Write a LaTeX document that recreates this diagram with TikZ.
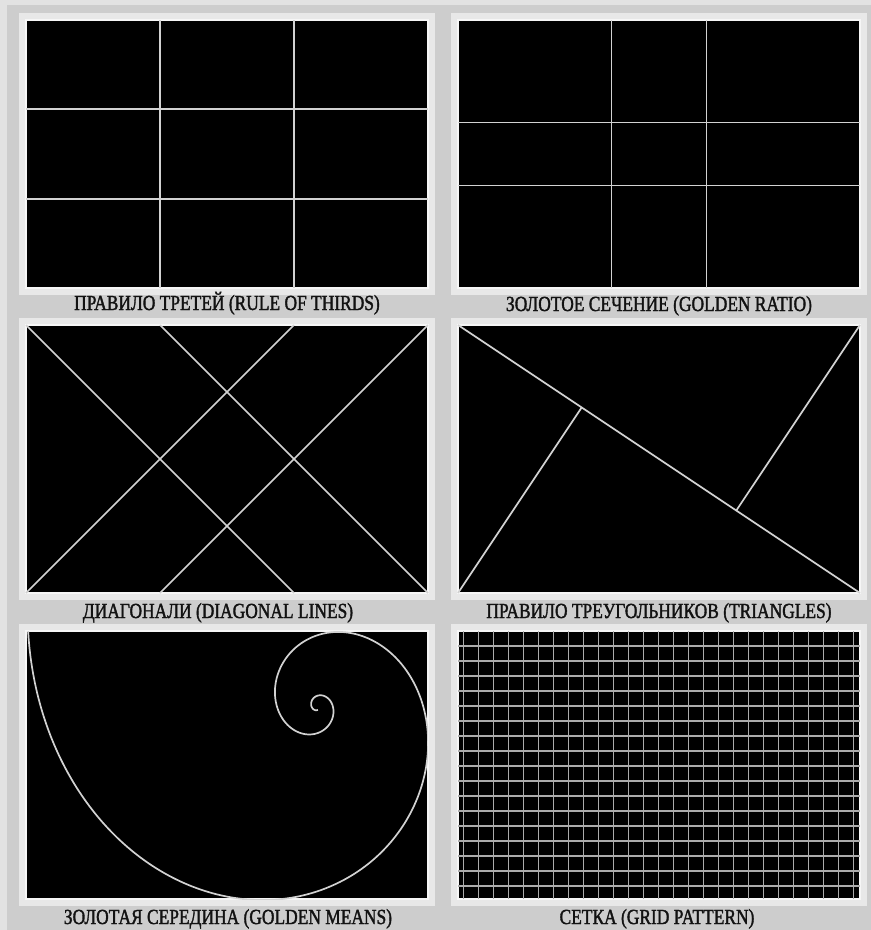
\documentclass[tikz,border=0pt]{standalone}
\usepackage{fontspec}
\newfontfamily\capfont[FakeStretch=0.81,FakeBold=1.6]{Liberation Serif}
\usetikzlibrary{positioning,calc}
\definecolor{paper}{HTML}{E2E2E2}
\definecolor{board}{HTML}{CDCDCD}
\definecolor{mat}{HTML}{E8E8E8}
\definecolor{matedge}{HTML}{F6F6F6}
\definecolor{guideline}{HTML}{D2D2D2}
\definecolor{gridgray}{HTML}{ABABAB}
\definecolor{ink}{HTML}{121212}

\begin{document}
\begin{tikzpicture}[x=1pt, y=-1pt,
shot/.style={fill=black, minimum width=402pt, minimum height=268pt, inner sep=0pt, outer sep=0pt, draw=matedge, line width=1.5pt, preaction={draw=mat, line width=14pt}},
caption/.style={font=\capfont\fontsize{21.5}{23}\selectfont, text=ink, anchor=base, inner sep=0pt},
guide/.style={draw=guideline, line width=1.7pt},
mesh/.style={draw=gridgray, line width=1.4pt},
declare function={spr(\a)=202.8*exp(-0.005346*(\a-253));}
]
\useasboundingbox (0,0) rectangle (871,930);
\fill[paper] (0,0) rectangle (871,930);
\fill[board] (7,5) rectangle (871,930);

\node[shot] (thirds) at (227,154) {};
\node[shot, right=30pt of thirds] (ratio) {};
\node[shot, below=37pt of thirds] (diag) {};
\node[shot, right=30pt of diag] (tri) {};
\node[shot, below=38pt of diag] (means) {};
\node[shot, right=30pt of means] (grid) {};

% thirds and golden ratio
\foreach \f in {1/3,2/3} {
  \draw[guide] ($(thirds.north west)!\f!(thirds.north east)$) -- ($(thirds.south west)!\f!(thirds.south east)$);
  \draw[guide] ($(thirds.north west)!\f!(thirds.south west)$) -- ($(thirds.north east)!\f!(thirds.south east)$);
}
\foreach \f in {0.382,0.618} {
  \draw[guide] ($(ratio.north west)!\f!(ratio.north east)$) -- ($(ratio.south west)!\f!(ratio.south east)$);
  \draw[guide] ($(ratio.north west)!\f!(ratio.south west)$) -- ($(ratio.north east)!\f!(ratio.south east)$);
}

% diagonals
\draw[guide] (diag.north west) -- ($(diag.south west)!2/3!(diag.south east)$);
\draw[guide] ($(diag.north west)!1/3!(diag.north east)$) -- (diag.south east);
\draw[guide] ($(diag.north west)!2/3!(diag.north east)$) -- (diag.south west);
\draw[guide] (diag.north east) -- ($(diag.south west)!1/3!(diag.south east)$);

% triangles
\draw[guide] (tri.north west) -- (tri.south east);
\draw[guide] (tri.south west) -- ($(tri.north west)!(tri.south west)!(tri.south east)$);
\draw[guide] (tri.north east) -- ($(tri.north west)!(tri.north east)!(tri.south east)$);

% golden spiral
\begin{scope}
\clip (means.north west) rectangle (means.south east);
\draw[guide, shift={(means.north west)}] plot[domain=166:1000, samples=500, smooth] ({291.3+0.924*spr(\x)*cos(\x)}, {75.1-spr(\x)*sin(\x)});
\end{scope}

% grid
\foreach \k in {0,...,26}
  \draw[mesh] ($(grid.north west)+(5.5+15*\k,0)$) -- ($(grid.south west)+(5.5+15*\k,0)$);
\foreach \k in {0,...,16}
  \draw[mesh] ($(grid.north west)+(0,15+15*\k)$) -- ($(grid.north east)+(0,15+15*\k)$);

\node[caption] (thirdscap) at ($(thirds.south)+(0,22)$) {ПРАВИЛО ТРЕТЕЙ (RULE OF THIRDS)};
\node[caption] (ratiocap) at ($(ratio.south)+(0,23)$) {ЗОЛОТОЕ СЕЧЕНИЕ (GOLDEN RATIO)};
\node[caption] (diagcap) at ($(diag.south)+(-9,25)$) {ДИАГОНАЛИ (DIAGONAL LINES)};
\node[caption] (tricap) at ($(tri.south)+(0,25)$) {ПРАВИЛО ТРЕУГОЛЬНИКОВ (TRIANGLES)};
\node[caption] (meanscap) at ($(means.south)+(1,25)$) {ЗОЛОТАЯ СЕРЕДИНА (GOLDEN MEANS)};
\node[caption] (gridcap) at ($(grid.south)+(-2,25)$) {СЕТКА (GRID PATTERN)};
\end{tikzpicture}
\end{document}
